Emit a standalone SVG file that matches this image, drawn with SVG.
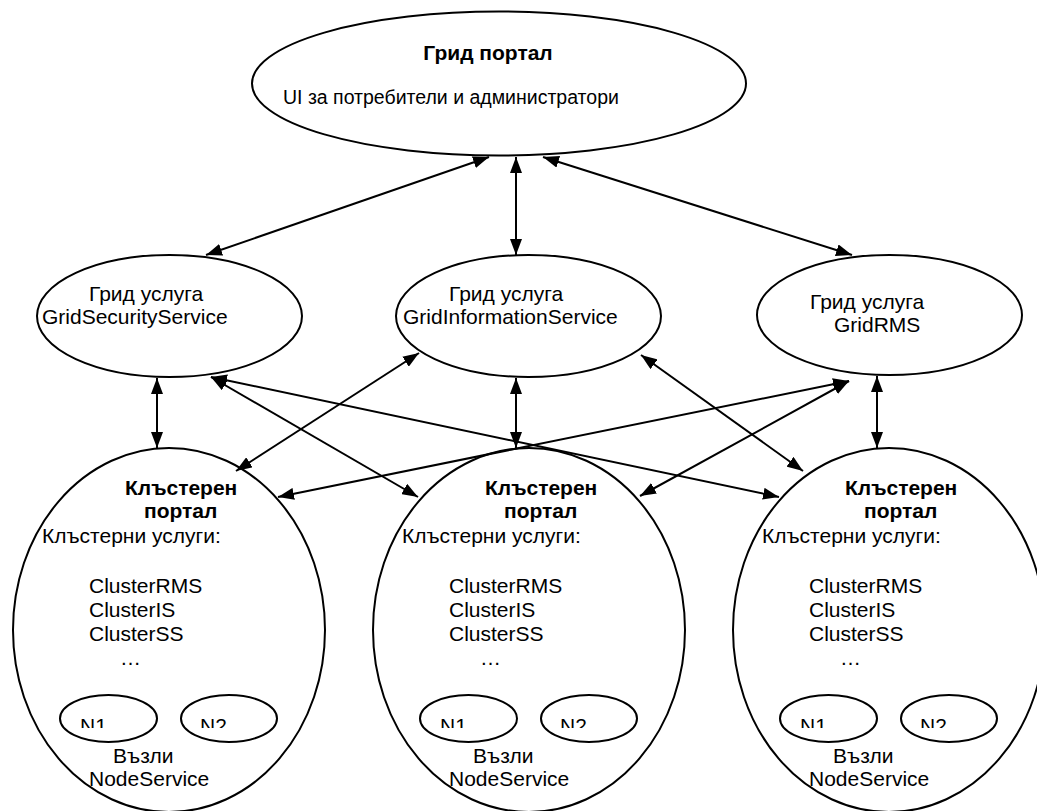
<svg xmlns="http://www.w3.org/2000/svg" width="1037" height="811" viewBox="0 0 1037 811">
  <style>
    .shape { fill: #ffffff; stroke: #000000; stroke-width: 2; }
    .inner { fill: none; stroke: #000000; stroke-width: 2; }
    .t { font-family: "Liberation Sans", Arial, sans-serif; font-size: 21px; fill: #000000; }
    .b { font-weight: bold; }
    .conn { stroke: #000000; stroke-width: 2; fill: none; marker-start: url(#ah); marker-end: url(#ah); }
  </style>
  <defs>
    <marker id="ah" markerUnits="userSpaceOnUse" markerWidth="16" markerHeight="12" refX="16" refY="6" orient="auto-start-reverse">
      <path d="M0,0 L16,6 L0,12 Z" fill="#000000"/>
    </marker>
    <clipPath id="nclip" clipPathUnits="userSpaceOnUse">
      <rect x="0" y="0" width="1037" height="728"/>
    </clipPath>
  </defs>
  <rect width="1037" height="811" fill="#ffffff"/>

  <g id="grid-portal">
    <ellipse class="shape" cx="499" cy="83.5" rx="247" ry="72"/>
    <text class="t b" x="488" y="60" text-anchor="middle">Грид портал</text>
    <text class="t" x="283" y="104" style="font-size:19.5px">UI за потребители и администратори</text>
  </g>

  <g id="grid-security-service">
    <ellipse class="shape" cx="169.5" cy="316" rx="132.5" ry="61"/>
    <text class="t" x="89" y="301">Грид услуга</text>
    <text class="t" x="42" y="324">GridSecurityService</text>
  </g>

  <g id="grid-information-service">
    <ellipse class="shape" cx="528.5" cy="316" rx="132.5" ry="61"/>
    <text class="t" x="449" y="301">Грид услуга</text>
    <text class="t" x="403" y="324">GridInformationService</text>
  </g>

  <g id="grid-rms">
    <ellipse class="shape" cx="889.5" cy="315" rx="132.5" ry="60"/>
    <text class="t" x="810" y="309">Грид услуга</text>
    <text class="t" x="834" y="332">GridRMS</text>
  </g>

  <g id="cluster-1">
    <ellipse class="shape" cx="169" cy="630" rx="156" ry="182"/>
    <text class="t b" x="125" y="495">Клъстерен</text>
    <text class="t b" x="144" y="518">портал</text>
    <text class="t" x="42" y="543">Клъстерни услуги:</text>
    <text class="t" x="89" y="593">ClusterRMS</text>
    <text class="t" x="89" y="617">ClusterIS</text>
    <text class="t" x="89" y="641">ClusterSS</text>
    <text class="t" x="120" y="665">…</text>
    <ellipse class="inner" cx="108.5" cy="718.5" rx="48.5" ry="23.5"/>
    <ellipse class="inner" cx="229" cy="718.5" rx="48" ry="23.5"/>
    <text class="t" x="80" y="733" clip-path="url(#nclip)">N1</text>
    <text class="t" x="200" y="733" clip-path="url(#nclip)">N2</text>
    <text class="t" x="113" y="763">Възли</text>
    <text class="t" x="89" y="786">NodeService</text>
  </g>

  <g id="cluster-2">
    <ellipse class="shape" cx="529" cy="630" rx="156" ry="182"/>
    <text class="t b" x="485" y="495">Клъстерен</text>
    <text class="t b" x="504" y="518">портал</text>
    <text class="t" x="402" y="543">Клъстерни услуги:</text>
    <text class="t" x="449" y="593">ClusterRMS</text>
    <text class="t" x="449" y="617">ClusterIS</text>
    <text class="t" x="449" y="641">ClusterSS</text>
    <text class="t" x="480" y="665">…</text>
    <ellipse class="inner" cx="468.5" cy="718.5" rx="48.5" ry="23.5"/>
    <ellipse class="inner" cx="589" cy="718.5" rx="48" ry="23.5"/>
    <text class="t" x="440" y="733" clip-path="url(#nclip)">N1</text>
    <text class="t" x="560" y="733" clip-path="url(#nclip)">N2</text>
    <text class="t" x="473" y="763">Възли</text>
    <text class="t" x="449" y="786">NodeService</text>
  </g>

  <g id="cluster-3">
    <ellipse class="shape" cx="889" cy="630" rx="156" ry="182"/>
    <text class="t b" x="845" y="495">Клъстерен</text>
    <text class="t b" x="864" y="518">портал</text>
    <text class="t" x="762" y="543">Клъстерни услуги:</text>
    <text class="t" x="809" y="593">ClusterRMS</text>
    <text class="t" x="809" y="617">ClusterIS</text>
    <text class="t" x="809" y="641">ClusterSS</text>
    <text class="t" x="840" y="665">…</text>
    <ellipse class="inner" cx="828.5" cy="718.5" rx="48.5" ry="23.5"/>
    <ellipse class="inner" cx="949" cy="718.5" rx="48" ry="23.5"/>
    <text class="t" x="800" y="733" clip-path="url(#nclip)">N1</text>
    <text class="t" x="920" y="733" clip-path="url(#nclip)">N2</text>
    <text class="t" x="833" y="763">Възли</text>
    <text class="t" x="809" y="786">NodeService</text>
  </g>

  <g id="connectors">
    <line class="conn" x1="489" y1="157" x2="206" y2="255"/>
    <line class="conn" x1="516" y1="157" x2="516" y2="255"/>
    <line class="conn" x1="543" y1="157" x2="852" y2="255"/>

    <line class="conn" x1="157" y1="378" x2="157" y2="448"/>
    <line class="conn" x1="211" y1="377" x2="418" y2="497"/>
    <line class="conn" x1="211" y1="377" x2="779" y2="497"/>

    <line class="conn" x1="419" y1="353" x2="236" y2="471"/>
    <line class="conn" x1="516" y1="378" x2="516" y2="448"/>
    <line class="conn" x1="641" y1="355" x2="803" y2="471"/>

    <line class="conn" x1="849" y1="381" x2="278" y2="497"/>
    <line class="conn" x1="849" y1="381" x2="640" y2="496"/>
    <line class="conn" x1="877" y1="376" x2="877" y2="448"/>
  </g>
</svg>
